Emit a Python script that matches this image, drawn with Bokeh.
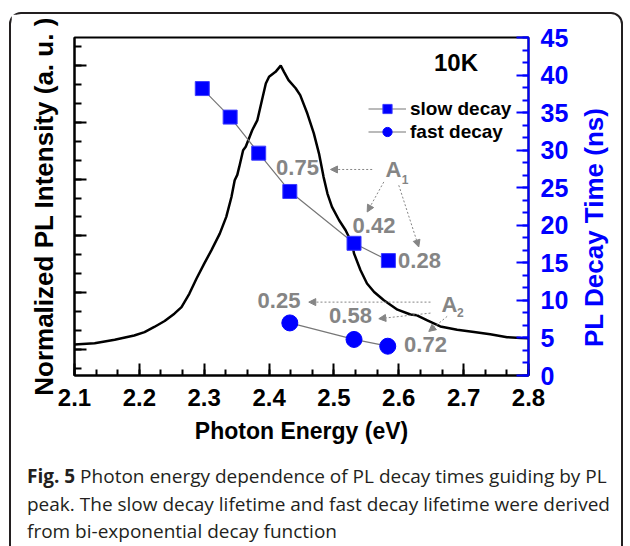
from bokeh.plotting import figure
from bokeh.models import (Range1d, LinearAxis, SingleIntervalTicker, Legend, LegendItem,
                          Arrow, NormalHead, Div, ColumnDataSource, CustomJSTickFormatter)
from bokeh.layouts import column, row
from bokeh.core.properties import value
from bokeh.embed import file_html
from bokeh.resources import INLINE

# ---------------- data ----------------
pl_energy = [2.100, 2.131, 2.162, 2.192, 2.208, 2.223, 2.239, 2.254, 2.265, 2.277, 2.288,
             2.300, 2.311, 2.324, 2.334, 2.342, 2.347, 2.351, 2.354, 2.360, 2.364, 2.374,
             2.382, 2.389, 2.395, 2.400, 2.410, 2.418, 2.423, 2.430, 2.441, 2.448, 2.459,
             2.469, 2.477, 2.484, 2.490, 2.497, 2.508, 2.518, 2.528, 2.531, 2.541, 2.551,
             2.562, 2.577, 2.598, 2.618, 2.628, 2.644, 2.664, 2.690, 2.716, 2.741, 2.767,
             2.788, 2.800]
pl_intensity = [0.017, 0.022, 0.034, 0.049, 0.061, 0.079, 0.100, 0.126, 0.149, 0.196, 0.249,
                0.302, 0.349, 0.408, 0.467, 0.537, 0.596, 0.615, 0.643, 0.702, 0.714, 0.772,
                0.808, 0.878, 0.937, 0.961, 0.978, 1.000, 0.978, 0.949, 0.920, 0.896, 0.831,
                0.761, 0.690, 0.608, 0.549, 0.502, 0.455, 0.420, 0.373, 0.338, 0.279, 0.232,
                0.202, 0.173, 0.140, 0.123, 0.120, 0.102, 0.081, 0.069, 0.061, 0.053, 0.043,
                0.040, 0.039]

slow_energy = [2.297, 2.340, 2.384, 2.432, 2.531, 2.584]
slow_tau = [38.2, 34.4, 29.6, 24.5, 17.6, 15.3]
fast_energy = [2.432, 2.531, 2.583]
fast_tau = [7.0, 4.8, 3.9]

amp_labels = ["0.75", "0.42", "0.28", "0.25", "0.58", "0.72"]
amp_x = [2.4438, 2.5618, 2.6319, 2.4153, 2.5255, 2.6412]
amp_y = [27.67, 20.0, 15.33, 10.0, 7.93, 4.07]

arrow_x0 = [2.559, 2.5769, 2.600, 2.6489, 2.6489, 2.6746]
arrow_y0 = [27.43, 25.77, 25.33, 9.77, 8.31, 7.87]
arrow_x1 = [2.4947, 2.5513, 2.6308, 2.4612, 2.5692, 2.6463]
arrow_y1 = [27.43, 21.77, 17.11, 9.77, 7.56, 5.87]

x_ticks_interval = 0.1
tau_tick_interval = 5

FONT = "Liberation Sans"
GRAY = "#858585"
BLUE = "#0000ff"

p = figure(width=560, height=441, x_range=Range1d(2.1, 2.80001), y_range=Range1d(-0.092, 1.099),
           output_backend="svg", toolbar_location=None,
           min_border_left=63, min_border_right=43, min_border_top=23, min_border_bottom=80)
p.extra_y_ranges = {"tau": Range1d(0, 45)}
p.xgrid.visible = False
p.ygrid.visible = False
p.outline_line_color = "black"
p.outline_line_width = 2
p.background_fill_color = "white"
p.border_fill_color = "white"

# bottom axis
xa = p.xaxis[0]
xa.ticker = SingleIntervalTicker(interval=x_ticks_interval, num_minor_ticks=3)
xa.axis_line_width = 2
xa.major_tick_line_width = 2
xa.minor_tick_line_width = 2
xa.major_tick_in = 12
xa.major_tick_out = 0
xa.minor_tick_in = 6
xa.minor_tick_out = 0
xa.major_label_text_font = FONT
xa.major_label_text_font_style = "bold"
xa.major_label_text_font_size = "24px"
xa.major_label_text_color = "black"
xa.major_label_standoff = 13
xa.axis_label = "Photon Energy (eV)"
xa.axis_label_text_font = FONT
xa.axis_label_text_font_style = "bold"
xa.axis_label_text_font_size = "23px"
xa.axis_label_text_color = "black"
xa.axis_label_standoff = 9

# left axis
ya = p.yaxis[0]
ya.ticker = SingleIntervalTicker(interval=0.2, num_minor_ticks=3)
ya.formatter = CustomJSTickFormatter(code="return ''")
ya.major_label_text_font_size = "0px"
ya.major_label_standoff = 0
ya.axis_line_width = 2
ya.major_tick_line_width = 2
ya.minor_tick_line_width = 2
ya.major_tick_in = 12
ya.major_tick_out = 0
ya.minor_tick_in = 7
ya.minor_tick_out = 0
ya.axis_label = "Normalized PL Intensity (a. u. )"
ya.axis_label_text_font = FONT
ya.axis_label_text_font_style = "bold"
ya.axis_label_text_font_size = "26px"
ya.axis_label_text_color = "black"
ya.axis_label_standoff = 16

# right axis
ra = LinearAxis(y_range_name="tau",
                ticker=SingleIntervalTicker(interval=tau_tick_interval, num_minor_ticks=3))
ra.axis_line_color = BLUE
ra.major_tick_line_color = BLUE
ra.minor_tick_line_color = BLUE
ra.axis_line_width = 2
ra.major_tick_line_width = 2
ra.minor_tick_line_width = 2
ra.major_tick_in = 12
ra.major_tick_out = 0
ra.minor_tick_in = 6
ra.minor_tick_out = 0
ra.major_label_text_font = FONT
ra.major_label_text_font_style = "bold"
ra.major_label_text_font_size = "25px"
ra.major_label_text_color = BLUE
ra.major_label_standoff = 12
p.add_layout(ra, "right")

# PL curve
p.line(pl_energy, pl_intensity, line_color="black", line_width=2.5)

# decay data
slow_line = p.line(slow_energy, slow_tau, y_range_name="tau", line_color="#777777", line_width=1.2)
slow_pts = p.scatter(slow_energy, slow_tau, y_range_name="tau", marker="square", size=14,
                     fill_color=BLUE, line_color="#3c3cff", line_width=1)
fast_line = p.line(fast_energy, fast_tau, y_range_name="tau", line_color="#777777", line_width=1.2)
fast_pts = p.scatter(fast_energy, fast_tau, y_range_name="tau", marker="circle", size=16,
                     fill_color=BLUE, line_color=BLUE, line_width=1)

# arrows
asrc = ColumnDataSource(dict(x0=arrow_x0, y0=arrow_y0, x1=arrow_x1, y1=arrow_y1))
p.add_layout(Arrow(x_start="x0", y_start="y0", x_end="x1", y_end="y1", source=asrc,
                   y_range_name="tau", line_color=GRAY, line_width=1, line_dash="2 2",
                   end=NormalHead(size=7, fill_color=GRAY, line_color=GRAY, line_width=1)))

# amplitude labels
p.text(amp_x, amp_y, text=amp_labels, y_range_name="tau", text_font=value(FONT),
       text_font_style="bold", text_font_size="22px", text_color=GRAY,
       text_align="center", text_baseline="middle")
p.text([2.5918, 2.6782], [27.4, 9.4], text=["A", "A"], y_range_name="tau", text_font=value(FONT),
       text_font_style="bold", text_font_size="22px", text_color=GRAY,
       text_align="center", text_baseline="middle")
p.text([2.6096, 2.6951], [26.13, 8.33], text=["1", "2"], y_range_name="tau", text_font=value(FONT),
       text_font_style="bold", text_font_size="12px", text_color=GRAY,
       text_align="center", text_baseline="middle")
p.text([2.6882], [41.73], text=["10K"], y_range_name="tau", text_font=value(FONT),
       text_font_style="bold", text_font_size="24px", text_color="black",
       text_align="center", text_baseline="middle")

legend = Legend(items=[LegendItem(label="slow decay", renderers=[slow_line, slow_pts]),
                       LegendItem(label="fast decay", renderers=[fast_line, fast_pts])],
                location=(294, 232), border_line_color=None, background_fill_alpha=0,
                glyph_width=38, glyph_height=23, label_height=23, label_standoff=4,
                padding=0, margin=0, spacing=0,
                label_text_font=FONT, label_text_font_style="bold", label_text_font_size="19px",
                label_text_color="black")
p.add_layout(legend)

# right axis title, reading bottom-to-top
right_title = Div(text="PL Decay Time (ns)", width=40, height=418,
                  styles={"writing-mode": "vertical-rl", "transform": "rotate(180deg)",
                          "text-align": "center", "font-family": "'Liberation Sans'",
                          "font-weight": "bold", "font-size": "26px", "color": BLUE,
                          "white-space": "nowrap"})

caption = Div(text='<b>Fig. 5</b> Photon energy dependence of PL decay times guiding by PL '
                   'peak. The slow decay lifetime and fast decay lifetime were derived '
                   'from bi-exponential decay function',
              width=600, height=100,
              styles={"font-family": "'Open Sans'", "font-size": "19px",
                      "line-height": "27.5px", "color": "#231f20",
                      "padding-left": "11px", "padding-top": "3px"})

layout = column(row(p, right_title), caption, margin=(12, 0, 0, 9),
                styles={"border": "2px solid #231f20", "border-radius": "12px",
                        "background": "white"})

open("out.html", "w").write(file_html(layout, INLINE))
